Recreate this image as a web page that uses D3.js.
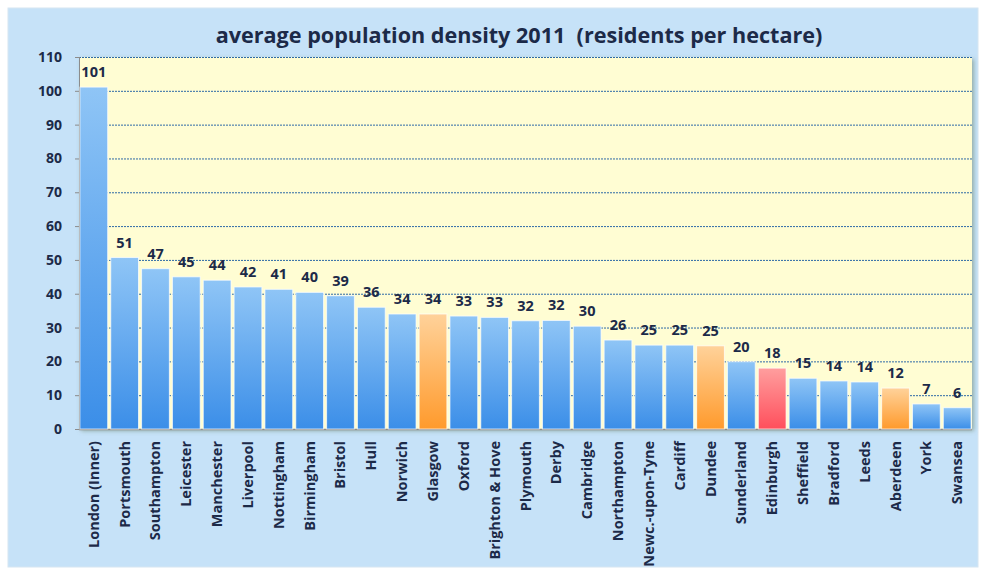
<!DOCTYPE html>
<html>
<head>
<meta charset="utf-8">
<script src="https://cdn.jsdelivr.net/npm/d3@7"></script>
<style>
  body { margin: 0; background: #fff; }
  text { font-family: "Open Sans", Lato, sans-serif; font-weight: bold; fill: #1c2a48; }
</style>
</head>
<body>
<svg width="986" height="575"></svg>
<script>
    var cities = ["London (Inner)", "Portsmouth", "Southampton", "Leicester", "Manchester", "Liverpool",
        "Nottingham", "Birmingham", "Bristol", "Hull", "Norwich", "Glasgow", "Oxford", "Brighton & Hove",
        "Plymouth", "Derby", "Cambridge", "Northampton", "Newc.-upon-Tyne", "Cardiff", "Dundee",
        "Sunderland", "Edinburgh", "Sheffield", "Bradford", "Leeds", "Aberdeen", "York", "Swansea"];
    var density = [101.1, 50.7, 47.4, 45, 44, 42, 41.3, 40.4, 39.4, 36, 34, 34, 33.4, 33, 32, 32.1, 30.4,
        26.3, 24.8, 24.8, 24.6, 19.9, 18, 15, 14.2, 13.9, 12.1, 7.4, 6.3];
    var scottish = ["Glasgow", "Dundee", "Aberdeen"];
    var highlight = ["Edinburgh"];
    var yTicks = [0, 10, 20, 30, 40, 50, 60, 70, 80, 90, 100, 110];
    var title = "average population density 2011  (residents per hectare)";

    (function () {
        var svg = d3.select("svg");
        var left = 79, right = 972, plotTop = 57, bottom = 429;

        var x = d3.scaleBand().domain(cities).range([left, right]).paddingInner(0.1).paddingOuter(0.03);
        var y = d3.scaleLinear().domain([0, 110]).range([bottom, plotTop]);

        var defs = svg.append("defs");
        function grad(id, c1, c2) {
            var g = defs.append("linearGradient").attr("id", id)
                .attr("x1", 0).attr("y1", 0).attr("x2", 0).attr("y2", 1);
            g.append("stop").attr("offset", "0%").attr("stop-color", c1);
            g.append("stop").attr("offset", "100%").attr("stop-color", c2);
        }
        grad("blue", "#8fc5f6", "#3b8ee8");
        grad("orange", "#ffd29a", "#ff9a2c");
        grad("red", "#ff9e9e", "#ff4f5c");
        var shadow = defs.append("filter").attr("id", "shadow").attr("x", "-5%").attr("y", "-5%")
            .attr("width", "110%").attr("height", "110%");
        shadow.append("feDropShadow").attr("dx", 2).attr("dy", 2).attr("stdDeviation", 2)
            .attr("flood-color", "#6f8a73").attr("flood-opacity", 0.6);

        // chart background
        svg.append("rect").attr("x", 8).attr("y", 8).attr("width", 970).attr("height", 559)
            .attr("fill", "#c6e2f8").attr("stroke", "#d6e6f2");

        // plot area
        svg.append("rect").attr("x", left).attr("y", plotTop).attr("width", right - left)
            .attr("height", bottom - plotTop)
            .attr("fill", "#fffdd3").attr("filter", "url(#shadow)");

        // gridlines
        svg.append("g").selectAll("line").data(yTicks.filter(function (d) { return d > 0; })).enter()
            .append("line")
            .attr("x1", left).attr("x2", right)
            .attr("y1", function (d) { return y(d) + 0.5; }).attr("y2", function (d) { return y(d) + 0.5; })
            .attr("stroke", "#2e6aa6").attr("stroke-width", 1).attr("stroke-dasharray", "2,1");

        // axis lines
        svg.append("line").attr("x1", left + 0.5).attr("x2", left + 0.5).attr("y1", plotTop).attr("y2", bottom)
            .attr("stroke", "#8c8c8c");
        svg.append("line").attr("x1", left).attr("x2", right).attr("y1", bottom + 0.5).attr("y2", bottom + 0.5)
            .attr("stroke", "#8c8c8c").attr("stroke-width", 1.5);

        var yAxis = svg.append("g").attr("transform", "translate(" + left + ",0)")
            .call(d3.axisLeft(y).tickValues(yTicks).tickSize(4).tickPadding(13));
        yAxis.select(".domain").remove();
        yAxis.selectAll("line").attr("stroke", "#8c8c8c");
        yAxis.selectAll("text").style("font-size", "14px").attr("fill", "#1c2a48")
            .style("font-family", "'Open Sans', Lato, sans-serif");

        function fillFor(c) {
            if (highlight.indexOf(c) > -1) return "url(#red)";
            if (scottish.indexOf(c) > -1) return "url(#orange)";
            return "url(#blue)";
        }

        svg.append("g").selectAll("rect").data(cities).enter()
            .append("rect")
            .attr("x", function (d) { return x(d); })
            .attr("y", function (d, i) { return y(density[i]); })
            .attr("width", x.bandwidth())
            .attr("height", function (d, i) { return bottom - y(density[i]); })
            .attr("fill", fillFor)
            .attr("stroke", "#ffffff").attr("stroke-opacity", 0.7).attr("stroke-width", 1);

        svg.append("g").selectAll("text").data(cities).enter()
            .append("text")
            .attr("x", function (d) { return x(d) + x.bandwidth() / 2; })
            .attr("y", function (d, i) { return y(density[i]) - 10; })
            .attr("text-anchor", "middle")
            .style("font-size", "14.5px")
            .text(function (d, i) { return Math.round(density[i]); });

        svg.append("g").selectAll("text").data(cities).enter()
            .append("text")
            .attr("transform", function (d) {
                return "translate(" + (x(d) + x.bandwidth() / 2 + 5) + "," + (bottom + 12) + ") rotate(-90)";
            })
            .attr("text-anchor", "end")
            .style("font-size", "14.5px")
            .text(function (d) { return d; });

        svg.append("text").attr("x", 519).attr("y", 43).attr("text-anchor", "middle")
            .style("font-size", "21.6px").style("white-space", "pre")
            .text(title);
    })();
</script>
</body>
</html>
